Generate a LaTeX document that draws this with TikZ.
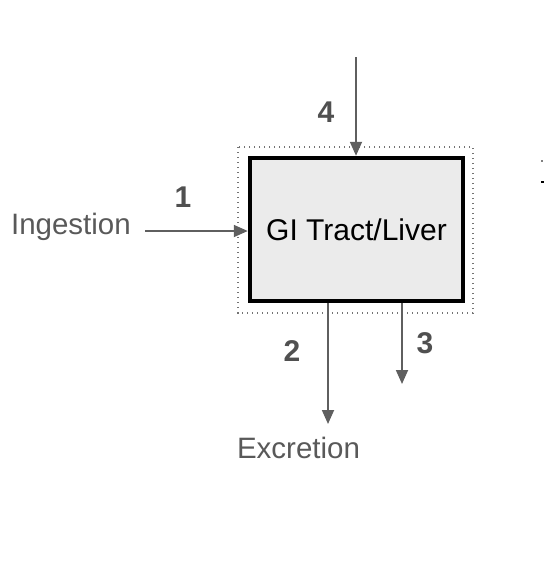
\documentclass[tikz,border=0pt]{standalone}
\usepackage{fontspec}
\setmainfont{Liberation Sans}
\usetikzlibrary{arrows.meta}
\definecolor{arrgray}{HTML}{5F5F5F}
\definecolor{txtgray}{HTML}{595959}
\definecolor{boxfill}{HTML}{EBEBEB}
\begin{document}
\begin{tikzpicture}[x=1pt,y=-1pt,
  flow/.style={draw=arrgray,line width=1.8pt,-{Triangle[length=14pt,width=12pt]}},
  lbl/.style={text=txtgray,font=\fontsize{29.5}{32}\selectfont,inner sep=0pt},
  num/.style={text=txtgray!90!black,font=\fontsize{30}{32}\selectfont\bfseries,inner sep=0pt}]
\useasboundingbox (0,0) rectangle (544,582);
% dotted outer frame
\draw[black!55,line width=1.4pt,dash pattern=on 1.4pt off 3.6pt] (238,147) rectangle (473,313);
% main box
\node[draw=black,line width=4.5pt,fill=boxfill,minimum width=213pt,minimum height=143pt,inner sep=0pt,
  font=\fontsize{30}{32}\selectfont] (gi) at (356.5,229.5) {GI Tract/Liver};
% Ingestion
\node[lbl,anchor=east] (ing) at (131,227) {Ingestion};
\coordinate (ingS) at (145,231);
\draw[flow] (ingS) -- (ingS -| gi.west);
\node[num] (n1) at (183,197) {1};
% 4
\coordinate (top4) at (356,57);
\draw[flow] (top4) -- (top4 |- gi.north);
\node[num] (n4) at (326,112) {4};
% 2
\coordinate (b2) at (328,303);
\coordinate (e2) at (328,424);
\draw[flow] (b2) -- (e2);
\node[num] (n2) at (292,351) {2};
\node[lbl] (exc) at (298.5,448) {Excretion};
% 3
\coordinate (b3) at (402,303);
\coordinate (e3) at (402,384);
\draw[flow] (b3) -- (e3);
\node[num] (n3) at (425,343) {3};
% clipped mark at right edge
\fill[gray] (541,160) rectangle (543,162);
\fill[black] (540.5,181) rectangle (544,182.5);
\end{tikzpicture}
\end{document}
